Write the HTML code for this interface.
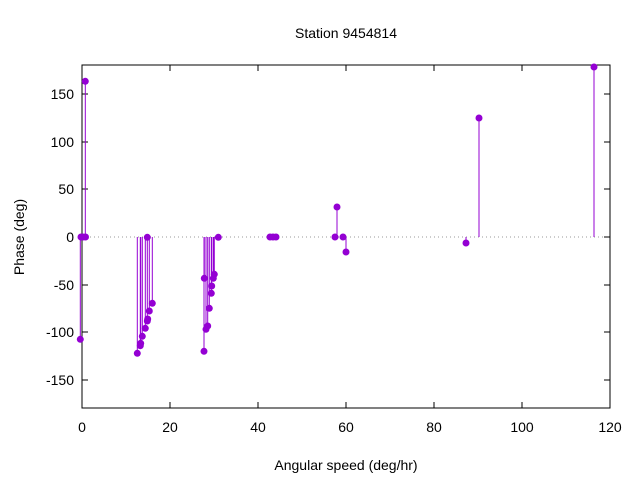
<!DOCTYPE html>
<html><head><style>body{margin:0;background:#fff}</style></head><body>
<svg width="640" height="480" xmlns="http://www.w3.org/2000/svg" font-family="Liberation Sans, sans-serif" font-size="14">
<rect width="640" height="480" fill="#fff"/>
<line x1="82" y1="237" x2="610" y2="237" stroke="#999" stroke-dasharray="1,3"/>
<g stroke="#000" stroke-width="1">
<rect x="82" y="65" width="528" height="343" fill="none"/>
<path d="M82 94h6M82 142h6M82 189h6M82 237h6M82 285h6M82 332h6M82 380h6M610 94h-6M610 142h-6M610 189h-6M610 237h-6M610 285h-6M610 332h-6M610 380h-6"/>
<path d="M82 408v-6M170 408v-6M258 408v-6M346 408v-6M434 408v-6M522 408v-6M610 408v-6M82 65v6M170 65v6M258 65v6M346 65v6M434 65v6M522 65v6M610 65v6"/>
</g>
<g text-anchor="end" fill="#000">
<text x="74" y="99">150</text><text x="74" y="147">100</text><text x="74" y="194">50</text><text x="74" y="242">0</text>
<text x="74" y="290">-50</text><text x="74" y="337">-100</text><text x="74" y="385">-150</text>
</g>
<g text-anchor="middle" fill="#000">
<text x="82" y="432">0</text><text x="170" y="432">20</text><text x="258" y="432">40</text><text x="346" y="432">60</text>
<text x="434" y="432">80</text><text x="522" y="432">100</text><text x="610" y="432">120</text>
<text x="346" y="470">Angular speed (deg/hr)</text>
<text x="346" y="38">Station 9454814</text>
<text transform="translate(24,237) rotate(-90)">Phase (deg)</text>
</g>
<g stroke="#9400d3" stroke-width="1" fill="none">
<path d="M80.3 237V339M85.3 237V81M137.3 237V353M140.3 237V346M140.7 237V343M142.3 237V336M145.3 237V328M147.3 237V321M149.3 237V311M152.3 237V303M204.3 237V278M204 237V351M206 237V329M207.7 237V326M209.3 237V308M211.3 237V293M211.7 237V286M213.3 237V278M214.3 237V274M337 237V207M346 237V252M466 237V243M479 237V118M594 237V67"/>
</g>
<g fill="#9400d3">
<circle cx="80.3" cy="339.3" r="3.5"/><circle cx="85.3" cy="81.3" r="3.5"/>
<circle cx="81" cy="237" r="3.5"/><circle cx="83" cy="237" r="3.5"/><circle cx="85.5" cy="237" r="3.5"/>
<circle cx="137.3" cy="353.3" r="3.5"/><circle cx="140.3" cy="345.7" r="3.5"/><circle cx="140.7" cy="343.3" r="3.5"/>
<circle cx="142.3" cy="336.3" r="3.5"/><circle cx="145.3" cy="328.3" r="3.5"/><circle cx="147.3" cy="321" r="3.5"/>
<circle cx="147.7" cy="319" r="3.5"/><circle cx="149.3" cy="311" r="3.5"/><circle cx="152.3" cy="303.3" r="3.5"/>
<circle cx="147.3" cy="237.3" r="3.5"/>
<circle cx="204.3" cy="278.3" r="3.5"/><circle cx="204" cy="351.3" r="3.5"/><circle cx="206" cy="329.3" r="3.5"/>
<circle cx="207.7" cy="326" r="3.5"/><circle cx="209.3" cy="308.3" r="3.5"/><circle cx="211.3" cy="293.3" r="3.5"/>
<circle cx="211.7" cy="286" r="3.5"/><circle cx="213.3" cy="278.3" r="3.5"/><circle cx="214.3" cy="274.3" r="3.5"/>
<circle cx="218.3" cy="237.3" r="3.5"/>
<circle cx="270" cy="237" r="3.5"/><circle cx="273" cy="237" r="3.5"/><circle cx="276" cy="237" r="3.5"/>
<circle cx="335" cy="237" r="3.5"/><circle cx="337" cy="207" r="3.5"/><circle cx="343" cy="237" r="3.5"/><circle cx="346" cy="252" r="3.5"/>
<circle cx="466" cy="243" r="3.5"/><circle cx="479" cy="118" r="3.5"/><circle cx="594" cy="67" r="3.5"/>
</g>
</svg>
</body></html>
